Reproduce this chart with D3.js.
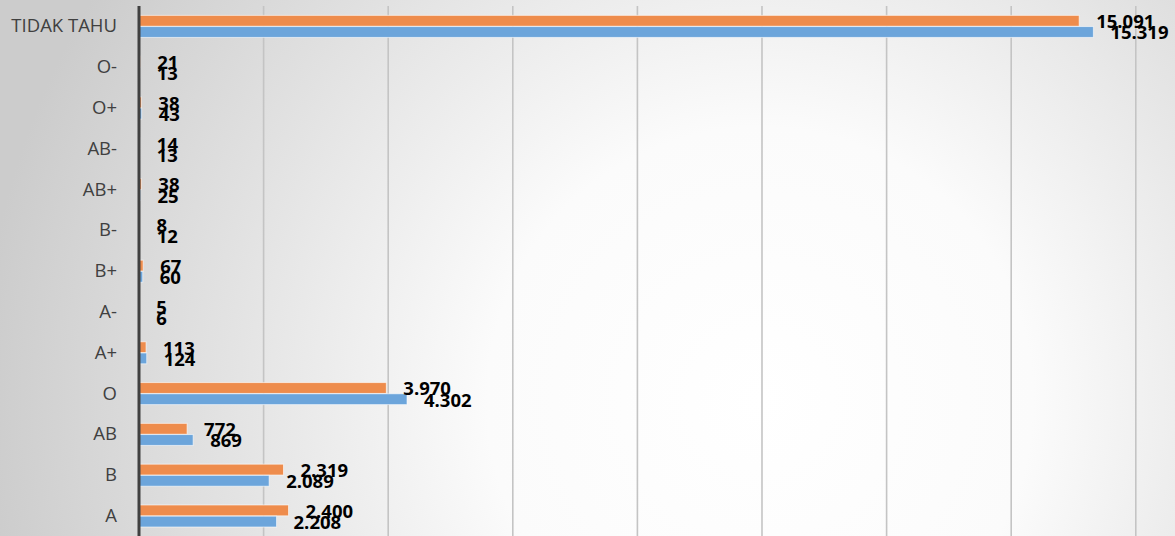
<!DOCTYPE html>
<html><head><meta charset="utf-8">
<script src="https://cdn.jsdelivr.net/npm/d3@7/dist/d3.min.js"></script>
<style>html,body{margin:0;padding:0;overflow:hidden;}</style>
</head><body><svg id="c" width="1175" height="536"></svg>
<script>
const categories = ["TIDAK TAHU","O-","O+","AB-","AB+","B-","B+","A-","A+","O","AB","B","A"];
const seriesOrange = [15091,21,38,14,38,8,67,5,113,3970,772,2319,2400];
const seriesBlue = [15319,13,43,13,25,12,60,6,124,4302,869,2089,2208];
const xTicks = [0,2000,4000,6000,8000,10000,12000,14000,16000];

const W=1175,H=536;
const svg=d3.select("#c");
const defs=svg.append("defs");
const rg=defs.append("radialGradient").attr("id","bg").attr("gradientUnits","userSpaceOnUse")
  .attr("cx",760).attr("cy",400).attr("r",780);
rg.append("stop").attr("offset","0").attr("stop-color","#ffffff");
rg.append("stop").attr("offset","0.35").attr("stop-color","#fbfbfb");
rg.append("stop").attr("offset","1").attr("stop-color","#cccccc");
svg.append("rect").attr("width",W).attr("height",H).attr("fill","url(#bg)");

const x=d3.scaleLinear().domain([0,16000]).range([139,1135.8]);
const y=d3.scaleBand().domain(categories).range([6,6+13*40.8]).paddingInner(0.46).paddingOuter(0.23);
const sub=d3.scaleBand().domain(["o","b"]).range([0,y.bandwidth()]).paddingInner(0.03);

// gridlines
svg.append("g").selectAll("line").data(xTicks.slice(1)).join("line")
  .attr("x1",d=>x(d)).attr("x2",d=>x(d)).attr("y1",6).attr("y2",H)
  .attr("stroke","#c4c4c4").attr("stroke-width",1.6);

const data=categories.map((c,i)=>({c,o:seriesOrange[i],b:seriesBlue[i]}));
const fmt=v=>d3.format(",")(v).replace(/,/g,".");

const g=svg.append("g");
const series=[{k:"o",color:"#EE8C4C"},{k:"b",color:"#6CA5DB"}];
series.forEach(s=>{
  g.selectAll("rect."+s.k).data(data).join("rect").attr("class",s.k)
    .attr("x",x(0)).attr("y",d=>y(d.c)+sub(s.k))
    .attr("width",d=>x(d[s.k])-x(0)).attr("height",sub.bandwidth())
    .attr("fill",s.color).attr("stroke","#ffffff").attr("stroke-opacity",0.6).attr("stroke-width",1);
});

// axis
const yAxis=d3.axisLeft(y).tickSize(0).tickPadding(22);
const ag=svg.append("g").attr("transform","translate(139,0)").call(yAxis);
ag.select(".domain").attr("stroke","#404040").attr("stroke-width",3).attr("d","M0,6V"+H);
ag.selectAll("text").attr("font-family","'Open Sans', sans-serif").attr("font-size",18.5).attr("fill","#404040");

// labels
series.forEach(s=>{
  svg.append("g").selectAll("text").data(data).join("text")
    .attr("x",d=>x(d[s.k])+17)
    .attr("y",d=>y(d.c)+sub(s.k)+sub.bandwidth()/2+1)
    .attr("dy","0.35em")
    .attr("font-family","'Open Sans', sans-serif").attr("font-weight","bold").attr("font-size",18.5)
    .attr("fill","#000").text(d=>fmt(d[s.k]));
});
</script></body></html>
